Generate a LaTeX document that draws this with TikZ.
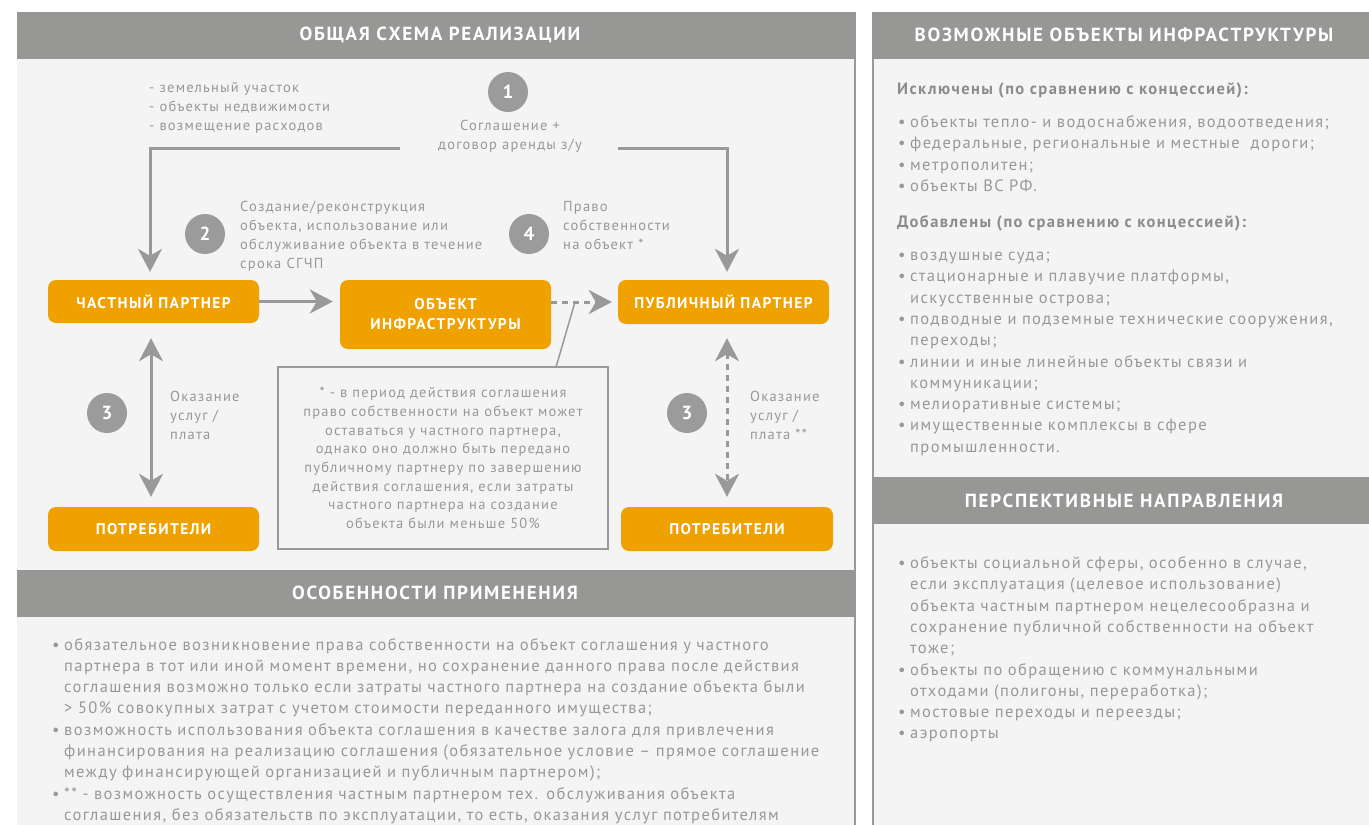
\documentclass[tikz,border=0pt]{standalone}
\usepackage{fontspec}
\setmainfont{PT Sans}
\newfontfamily\bodyf[LetterSpace=8.5]{PT Sans}
\newfontfamily\hdrf[LetterSpace=9]{PT Sans}
\newfontfamily\boxf[LetterSpace=9]{PT Sans}
\usetikzlibrary{arrows.meta,calc}
\definecolor{hdr}{RGB}{151,151,150}
\definecolor{bg}{RGB}{244,244,244}
\definecolor{org}{RGB}{239,161,0}
\definecolor{txt}{RGB}{152,152,152}
\definecolor{txtb}{RGB}{140,140,140}
\definecolor{circ}{RGB}{155,155,155}
\definecolor{arw}{RGB}{153,153,153}
\newcommand\itm[1]{\par\noindent\hangindent=12pt\hangafter=1\strut\makebox[12pt][l]{•}#1\par}
\begin{document}
\begin{tikzpicture}[x=1pt,y=-1pt,
  hdrtext/.style={text=white,font=\hdrf\bfseries\fontsize{19}{20}\selectfont,inner sep=0pt},
  obox/.style={fill=org,rounded corners=8pt,text=white,font=\boxf\bfseries\fontsize{15.5}{20}\selectfont,align=center,inner sep=0pt},
  num/.style={circle,fill=circ,minimum size=40pt,inner sep=0pt,text=white,font=\bfseries\fontsize{19}{20}\selectfont},
  lbl/.style={text=txt,font=\bodyf\fontsize{14.5}{19}\selectfont,inner sep=0pt},
  lst/.style={text=txt,font=\bodyf\fontsize{16.5}{21.3}\selectfont,inner sep=0pt,align=left,anchor=north west},
  sub/.style={text=txtb,font=\bodyf\bfseries\fontsize{16.5}{21.3}\selectfont,inner sep=0pt,anchor=mid west},
  arr/.style={draw=arw,line width=3pt,-{Stealth[length=23pt,width=24pt,inset=7pt]}},
  darr/.style={draw=arw,line width=3pt,{Stealth[length=23pt,width=24pt,inset=7pt]}-{Stealth[length=23pt,width=24pt,inset=7pt]}},
  dsh/.style={dash pattern=on 6pt off 5pt},
  frame/.style={draw=arw,line width=2.5pt}]
\useasboundingbox (0,0) rectangle (1369,825);
\fill[white] (0,0) rectangle (1369,825);
% panels
\fill[bg] (17,12) rectangle (856,825);
\fill[bg] (872,12) rectangle (1369,825);
\draw[frame] (855,59) -- (855,825);
\draw[frame] (873,59) -- (873,825);
\fill[hdr] (17,12) rectangle (856,59);
\fill[hdr] (872,12) rectangle (1369,59);
\fill[hdr] (17,570) rectangle (856,617);
\fill[hdr] (872,477) rectangle (1369,524);
\node[hdrtext] (h1) at (440,35) {ОБЩАЯ СХЕМА РЕАЛИЗАЦИИ};
\node[hdrtext] (h2) at (1124,35) {ВОЗМОЖНЫЕ ОБЪЕКТЫ ИНФРАСТРУКТУРЫ};
\node[hdrtext] (h3) at (435,593) {ОСОБЕННОСТИ ПРИМЕНЕНИЯ};
\node[hdrtext] (h4) at (1124,501) {ПЕРСПЕКТИВНЫЕ НАПРАВЛЕНИЯ};

% boxes
\node[obox,minimum width=211pt,minimum height=43pt] (pp) at (153.5,301.5) {ЧАСТНЫЙ ПАРТНЕР};
\node[obox,minimum width=211pt,minimum height=69pt] (obj) at (445.5,314.5) {ОБЪЕКТ\\ИНФРАСТРУКТУРЫ};
\node[obox,minimum width=211pt,minimum height=44pt] (pub) at (723.5,302) {ПУБЛИЧНЫЙ ПАРТНЕР};
\node[obox,minimum width=211pt,minimum height=44pt] (c1) at (153.5,529) {ПОТРЕБИТЕЛИ};
\node[obox,minimum width=212pt,minimum height=44pt] (c2) at (727,529) {ПОТРЕБИТЕЛИ};

% numbers
\node[num] (n1) at (508,92) {1};
\node[num] (n2) at (205,234) {2};
\node[num] (n4) at (529,234) {4};
\node[num] (n3a) at (107,413) {3};
\node[num] (n3b) at (687,413) {3};

% labels
\node[lbl,align=left,anchor=west] (l1) at (149,108) {- земельный участок\\- объекты недвижимости\\- возмещение расходов};
\node[lbl,align=center] (l2) at (510,136) {Соглашение +\\договор аренды з/у};
\node[lbl,align=left,anchor=west] (l3) at (240,236.5) {Создание/реконструкция\\объекта, использование или\\обслуживание объекта в течение\\срока СГЧП};
\node[lbl,align=left,anchor=west] (l4) at (563,226) {Право\\собственности\\на объект *};
\node[lbl,align=left,anchor=west] (l5) at (170,415.5) {Оказание\\услуг /\\плата};
\node[lbl,align=left,anchor=west] (l6) at (750,415.5) {Оказание\\услуг /\\плата **};
\node[draw=arw,line width=1.5pt,minimum width=330pt,minimum height=182pt,inner sep=0pt,align=center,text=txt,font=\bodyf\fontsize{14.5}{18.7}\selectfont] (note) at (443,458)
 {* - в период действия соглашения\\право собственности на объект может\\оставаться у частного партнера,\\однако оно должно быть передано\\публичному партнеру по завершению\\действия соглашения, если затраты\\частного партнера на создание\\объекта были меньше 50\%};

% connectors
\coordinate (s1) at (400,148);
\coordinate (s2) at (618,148);
\draw[arr,shorten >=8pt] (s1) -| ([xshift=-3.5pt]pp.north);
\draw[arr,shorten >=8pt] (s2) -| ([xshift=3.5pt]pub.north);
\draw[arr,shorten >=7pt] (pp.east) -- (pp.east -| obj.west);
\draw[arr,dsh,shorten >=6pt] (pub.west -| obj.east) -- (pub.west);
\coordinate (cl) at (575,302);
\draw[draw=arw,line width=1.5pt] ($(note.north west)+(279,0)$) -- (cl);
\draw[darr,shorten <=15pt,shorten >=10pt] ([xshift=-2.5pt]pp.south) -- ([xshift=-2.5pt]c1.north);
\draw[darr,dsh,shorten <=14pt,shorten >=10pt] ([xshift=3.5pt]pub.south) -- (c2.north);

% right panel
\node[sub] (t1) at (897,92) {Исключены (по сравнению с концессией):};
\node[lst,text width=468pt] (r1) at (898,106) {\itm{объекты тепло- и водоснабжения, водоотведения;}\itm{федеральные, региональные и местные~ дороги;}\itm{метрополитен;}\itm{объекты ВС РФ.}};
\node[sub] (t2) at (897,225) {Добавлены (по сравнению с концессией):};
\node[lst,text width=468pt] (r2) at (898,239) {\itm{воздушные суда;}\itm{стационарные и плавучие платформы,\newline искусственные острова;}\itm{подводные и подземные технические сооружения,\newline переходы;}\itm{линии и иные линейные объекты связи и\newline коммуникации;}\itm{мелиоративные системы;}\itm{имущественные комплексы в сфере\newline промышленности.}};
\node[lst,text width=468pt] (r3) at (898,547) {\itm{объекты социальной сферы, особенно в случае,\newline если эксплуатация (целевое использование)\newline объекта частным партнером нецелесообразна и\newline сохранение публичной собственности на объект\newline тоже;}\itm{объекты по обращению с коммунальными\newline отходами (полигоны, переработка);}\itm{мостовые переходы и переезды;}\itm{аэропорты}};
% bottom-left list
\node[lst,text width=800pt] (b1) at (52,628.5) {\itm{обязательное возникновение права собственности на объект соглашения у частного\newline партнера в тот или иной момент времени, но сохранение данного права после действия\newline соглашения возможно только если затраты частного партнера на создание объекта были\newline > 50\% совокупных затрат с учетом стоимости переданного имущества;}\itm{возможность использования объекта соглашения в качестве залога для привлечения\newline финансирования на реализацию соглашения (обязательное условие – прямое соглашение\newline между финансирующей организацией и публичным партнером);}\itm{** - возможность осуществления частным партнером тех. обслуживания объекта\newline соглашения, без обязательств по эксплуатации, то есть, оказания услуг потребителям}};
\end{tikzpicture}
\end{document}
